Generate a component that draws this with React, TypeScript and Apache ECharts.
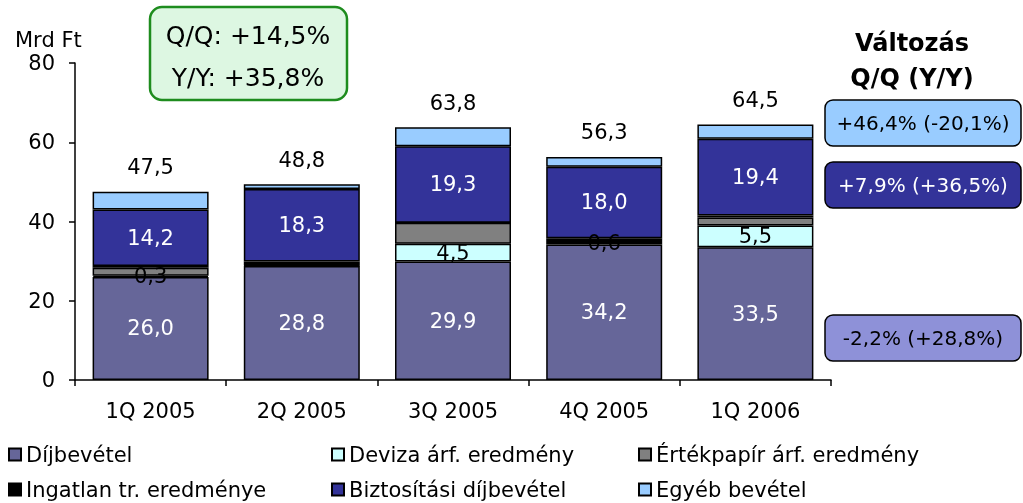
import React, { useEffect, useRef } from "react";
import * as echarts from "echarts";

const categories = ["1Q 2005", "2Q 2005", "3Q 2005", "4Q 2005", "1Q 2006"];
const dijbevetel = [26.0, 28.8, 29.9, 34.2, 33.5];
const deviza = [0.3, 0.1, 4.5, 0.6, 5.5];
const devizaShowLabel = [true, false, true, true, true];
const ertekpapir = [2.0, 0.6, 5.3, 0.5, 2.0];
const ingatlan = [0.5, 0.4, 0.0, 0.5, 0.5];
const biztositasi = [14.2, 18.3, 19.3, 18.0, 19.4];
const egyeb = [4.5, 1.2, 4.8, 2.5, 3.6];
const totals = [47.5, 48.8, 63.8, 56.3, 64.5];
const yTicks = { min: 0, max: 80, interval: 20 };
const changeTexts = ["+46,4% (-20,1%)", "+7,9% (+36,5%)", "-2,2% (+28,8%)"];
const growthTexts = ["Q/Q: +14,5%", "Y/Y: +35,8%"];
const legendLayout = [
  ["Díjbevétel", "Deviza árf. eredmény", "Értékpapír árf. eredmény"],
  ["Ingatlan tr. eredménye", "Biztosítási díjbevétel", "Egyéb bevétel"],
];

const FONT = "DejaVu Sans";
const fmt = (v: number) => v.toFixed(1).replace(".", ",");

export default function App() {
  const ref = useRef<HTMLDivElement>(null);
  useEffect(() => {
    if (!ref.current) return;
    const chart = echarts.init(ref.current, null, { renderer: "svg" });
    const border = { borderColor: "#000", borderWidth: 1.5 };
    const mk = (name: string, data: number[], color: string, label?: any) => ({
      name,
      type: "bar",
      stack: "a",
      barWidth: 116,
      data,
      itemStyle: { color, ...border },
      label: label || { show: false },
    });
    const inLabel = (color: string, showArr?: boolean[]) => ({
      show: true,
      position: "inside",
      color,
      fontSize: 21,
      fontFamily: FONT,
      formatter: (p: any) => (showArr && !showArr[p.dataIndex] ? "" : fmt(p.value)),
    });
    const colLeft = [8, 331, 638];
    const rowTop = [444, 479];
    const legends: any[] = [];
    legendLayout.forEach((row, r) =>
      row.forEach((name, c) =>
        legends.push({
          left: colLeft[c],
          top: rowTop[r],
          itemWidth: 12,
          itemHeight: 12,
          icon: "rect",
          padding: 0,
          data: [name],
          textStyle: { fontSize: 21, fontFamily: FONT, color: "#000" },
        })
      )
    );
    chart.setOption({
      animation: false,
      textStyle: { fontFamily: FONT },
      grid: { left: 75, right: 192, top: 63, bottom: 123, containLabel: false },
      xAxis: {
        type: "category",
        data: categories,
        axisLine: { lineStyle: { color: "#000", width: 1.5 } },
        axisTick: { show: true, length: 6, lineStyle: { color: "#000", width: 1.5 } },
        axisLabel: { fontSize: 21, color: "#000", margin: 20, fontFamily: FONT },
      },
      yAxis: {
        type: "value",
        ...yTicks,
        axisLine: { show: true, lineStyle: { color: "#000", width: 1.5 } },
        axisTick: { show: true, length: 6, lineStyle: { color: "#000", width: 1.5 } },
        splitLine: { show: false },
        axisLabel: { fontSize: 21, color: "#000", margin: 20, fontFamily: FONT },
      },
      legend: legends,
      series: [
        mk("Díjbevétel", dijbevetel, "#666699", inLabel("#fff")),
        mk("Deviza árf. eredmény", deviza, "#CCFFFF", inLabel("#000", devizaShowLabel)),
        mk("Értékpapír árf. eredmény", ertekpapir, "#808080"),
        mk("Ingatlan tr. eredménye", ingatlan, "#000000"),
        mk("Biztosítási díjbevétel", biztositasi, "#333399", inLabel("#fff")),
        mk("Egyéb bevétel", egyeb, "#99CCFF"),
        {
          name: "Összesen",
          type: "bar",
          stack: "a",
          barWidth: 116,
          silent: true,
          data: totals.map(() => 0.001),
          itemStyle: { color: "rgba(0,0,0,0)", borderWidth: 0 },
          label: {
            show: true,
            position: "top",
            distance: 14,
            color: "#000",
            fontSize: 21,
            fontFamily: FONT,
            formatter: (p: any) => fmt(totals[p.dataIndex]),
          },
        },
      ],
      graphic: [
        {
          type: "text",
          x: 15,
          y: 40,
          style: { text: "Mrd Ft", fontSize: 21, fontFamily: FONT, fill: "#000", verticalAlign: "middle" },
        },
        {
          type: "rect",
          shape: { x: 150, y: 7, width: 197, height: 93, r: 12 },
          style: { fill: "#DDF7E2", stroke: "#1E8C1E", lineWidth: 2.5 },
        },
        ...growthTexts.map((t, i) => ({
          type: "text",
          x: 248,
          y: 35 + i * 42,
          style: { text: t, fontSize: 25, fontFamily: FONT, fill: "#000", align: "center", verticalAlign: "middle" },
        })),
        {
          type: "text",
          x: 912,
          y: 43,
          style: { text: "Változás", fontSize: 24, fontWeight: "bold", fontFamily: FONT, fill: "#000", align: "center", verticalAlign: "middle" },
        },
        {
          type: "text",
          x: 912,
          y: 78,
          style: { text: "Q/Q (Y/Y)", fontSize: 24, fontWeight: "bold", fontFamily: FONT, fill: "#000", align: "center", verticalAlign: "middle" },
        },
        ...[
          { y: 100, fill: "#99CCFF", color: "#000" },
          { y: 162, fill: "#333399", color: "#fff" },
          { y: 315, fill: "#8E91D8", color: "#000" },
        ].flatMap((b, i) => [
          {
            type: "rect",
            shape: { x: 825, y: b.y, width: 196, height: 46, r: 8 },
            style: { fill: b.fill, stroke: "#000", lineWidth: 1.5 },
          },
          {
            type: "text",
            x: 923,
            y: b.y + 23,
            style: { text: changeTexts[i], fontSize: 20, fontFamily: FONT, fill: b.color, align: "center", verticalAlign: "middle" },
          },
        ]),
      ],
    });
    return () => chart.dispose();
  }, []);
  return <div ref={ref} style={{ position: "fixed", left: 0, top: 0, width: 1023, height: 503 }} />;
}
